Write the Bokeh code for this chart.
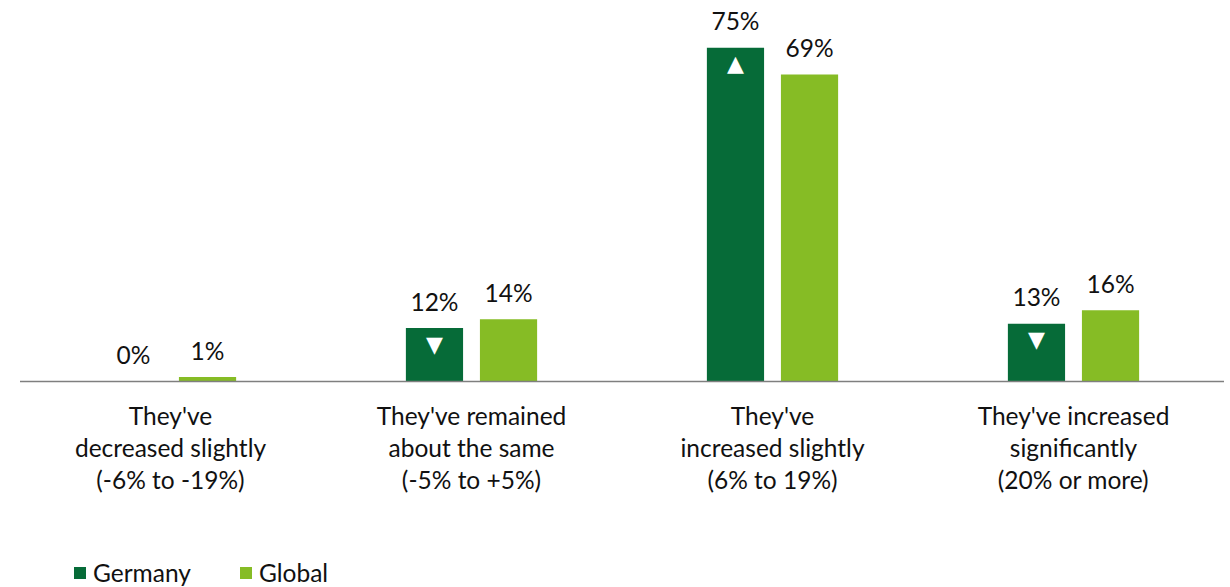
from bokeh.plotting import figure
from bokeh.models import ColumnDataSource, Range1d, Legend, LegendItem
from bokeh.core.properties import value
from bokeh.transform import dodge
from bokeh.embed import file_html
from bokeh.resources import INLINE

categories = [
    "They've\ndecreased slightly\n(-6% to -19%)",
    "They've remained\nabout the same\n(-5% to +5%)",
    "They've\nincreased slightly\n(6% to 19%)",
    "They've increased\nsignificantly\n(20% or more)",
]
germany = [0, 12, 75, 13]
global_ = [1, 14, 69, 16]
germany_sig = ["", "▼", "▲", "▼"]  # significance arrows shown inside Germany bars

GER_COLOR = "#066B38"
GLO_COLOR = "#86BC25"
FONT = "Lato"
FS = "24.5px"

idx = list(range(len(categories)))
src = ColumnDataSource(dict(
    idx=idx,
    cat=categories,
    ger=germany,
    glo=global_,
    ger_lbl=[f"{v}%" for v in germany],
    glo_lbl=[f"{v}%" for v in global_],
    sig=germany_sig,
    zero=[0] * len(idx),
))

W, H = 1230, 587
px_per_unit_x = 301.0
px_per_unit_y = 4.45
base_px_from_top = 381
first_center_px = 170

p = figure(
    width=W, height=H, output_backend="svg", toolbar_location=None,
    x_range=Range1d(-first_center_px / px_per_unit_x, (W - first_center_px) / px_per_unit_x),
    y_range=Range1d(-(H - base_px_from_top) / px_per_unit_y, base_px_from_top / px_per_unit_y),
    min_border=0, outline_line_color=None,
)
p.axis.visible = False
p.grid.visible = False
p.background_fill_color = "white"
p.border_fill_color = "white"

off = 0.123
bw = 0.19
r_ger = p.vbar(x=dodge("idx", -off), top="ger", bottom=0, width=bw, source=src,
               fill_color=GER_COLOR, line_color=None)
r_glo = p.vbar(x=dodge("idx", off), top="glo", bottom=0, width=bw, source=src,
               fill_color=GLO_COLOR, line_color=None)

# baseline
n = len(categories)
p.segment(x0=[-0.5], y0=[0], x1=[n - 0.5], y1=[0], line_color="#7f7f7f", line_width=1.5)

# value labels
lbl_kw = dict(text_font=value(FONT), text_font_size=FS, text_color="#111111",
              text_align="center", text_baseline="alphabetic", y_offset=-27)
p.text(x=dodge("idx", -off), y="ger", text="ger_lbl", source=src, **lbl_kw)
p.text(x=dodge("idx", off), y="glo", text="glo_lbl", source=src, **lbl_kw)

# significance arrows
p.text(x=dodge("idx", -off), y="ger", text="sig", source=src,
       text_font=value("DejaVu Sans"), text_font_size="22px", text_color="white",
       text_align="center", text_baseline="middle", y_offset=16)

# category labels
p.text(x="idx", y="zero", text="cat", source=src,
       text_font=value(FONT), text_font_size=FS, text_color="#111111",
       text_align="center", text_baseline="top", y_offset=19, text_line_height=1.12)

legend = Legend(
    items=[LegendItem(label="Germany", renderers=[r_ger]),
           LegendItem(label="Global", renderers=[r_glo])],
    orientation="horizontal", location=(72, 0),
    glyph_width=15, glyph_height=15, label_standoff=6, label_width=140, spacing=5,
    padding=0, margin=0, border_line_color=None, background_fill_alpha=0,
    label_text_font=FONT, label_text_font_size=FS, label_text_color="#111111",
)
p.add_layout(legend)

open("out.html", "w").write(file_html(p, INLINE))
